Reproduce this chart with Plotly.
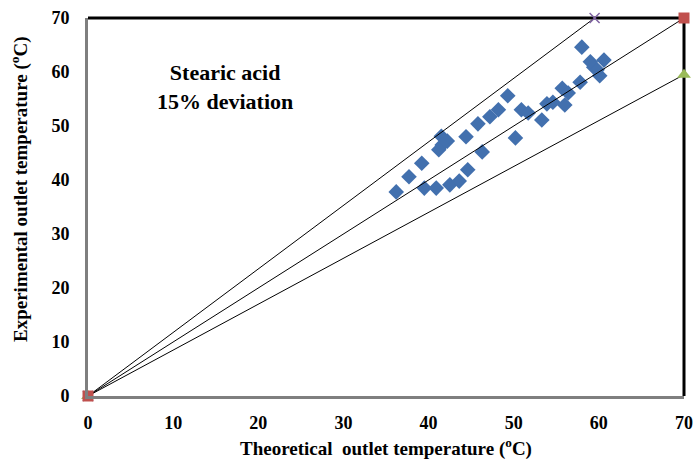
import plotly.graph_objects as go

# Measured points: theoretical vs experimental outlet temperature (°C)
theoretical = [36.2, 37.7, 39.2, 39.5, 40.9, 41.5, 42.2, 41.6, 41.2, 42.5,
               43.6, 44.6, 44.4, 45.8, 46.3, 47.2, 48.2, 49.3, 50.2, 50.9,
               51.7, 53.3, 53.9, 54.6, 55.7, 56.0, 56.4, 57.8, 58.0, 59.0,
               59.4, 60.6, 60.1, 59.8]
experimental = [37.8, 40.6, 43.1, 38.5, 38.5, 48.1, 47.2, 46.5, 45.6, 39.1,
                39.8, 41.9, 48.0, 50.4, 45.2, 51.7, 53.0, 55.6, 47.8, 53.0,
                52.4, 51.1, 54.1, 54.4, 57.0, 53.9, 56.1, 58.1, 64.6, 61.9,
                60.9, 62.2, 59.3, 60.4]

# Reference lines: perfect agreement and ±15% deviation bounds
ideal_x = [0, 70]
ideal_y = [0, 70]
upper_x = [0, 59.5]
upper_y = [0, 70]
lower_x = [0, 70]
lower_y = [0, 59.5]

axis_min, axis_max = 0, 70
tick_vals = [0, 10, 20, 30, 40, 50, 60, 70]

font_family = "Liberation Serif, Times New Roman, serif"

fig = go.Figure()

fig.add_trace(go.Scatter(
    x=theoretical, y=experimental, mode="markers",
    marker=dict(symbol="diamond", size=12, color="#4270AE"),
    cliponaxis=False, showlegend=False))

fig.add_trace(go.Scatter(
    x=upper_x, y=upper_y, mode="lines+markers",
    line=dict(color="black", width=1),
    marker=dict(symbol="x-thin", size=10, line=dict(color="#8064A2", width=1.5)),
    cliponaxis=False, showlegend=False))

fig.add_trace(go.Scatter(
    x=lower_x, y=lower_y, mode="lines+markers",
    line=dict(color="black", width=1),
    marker=dict(symbol="triangle-up", size=12, color="#9BBB59"),
    cliponaxis=False, showlegend=False))

fig.add_trace(go.Scatter(
    x=ideal_x, y=ideal_y, mode="lines+markers",
    line=dict(color="black", width=1),
    marker=dict(symbol="square", size=11, color="#C0504D"),
    cliponaxis=False, showlegend=False))

# Frame: grey axis lines on left/bottom, black border on top/right
fig.add_shape(type="line", xref="paper", yref="paper", x0=0, x1=1, y0=1, y1=1,
              line=dict(color="black", width=3), layer="below")
fig.add_shape(type="line", xref="paper", yref="paper", x0=1, x1=1, y0=0, y1=1,
              line=dict(color="black", width=3), layer="below")

fig.add_annotation(
    x=16.1, y=57.2, xref="x", yref="y",
    text="<b>Stearic acid</b><br><b>15% deviation</b>",
    showarrow=False, align="center",
    font=dict(family=font_family, size=22, color="black"))

# Axis titles
fig.add_annotation(
    x=0.5, y=0, xref="paper", yref="paper", yshift=-51, yanchor="middle",
    text="<b>Theoretical  outlet temperature (<sup>o</sup>C)</b>",
    showarrow=False, font=dict(family=font_family, size=19, color="black"))
fig.add_annotation(
    x=0, y=0.545, xref="paper", yref="paper", xshift=-68, xanchor="center",
    textangle=-90,
    text="<b>Experimental outlet temperature (<sup>o</sup>C)</b>",
    showarrow=False, font=dict(family=font_family, size=19, color="black"))

axis_common = dict(
    range=[axis_min, axis_max], tickvals=tick_vals,
    showgrid=False, zeroline=False, automargin=False,
    showline=True, linecolor="#7F7F7F", linewidth=3,
    ticks="outside", tickcolor="rgba(0,0,0,0)",
    tickfont=dict(family=font_family, size=18, color="black", weight="bold"),
)

fig.update_layout(
    width=695, height=461,
    margin=dict(l=88, r=11, t=18, b=65),
    paper_bgcolor="white", plot_bgcolor="white",
    xaxis=dict(**axis_common, ticklen=8),
    yaxis=dict(**axis_common, ticklen=12),
)

fig.write_html("out.html")
